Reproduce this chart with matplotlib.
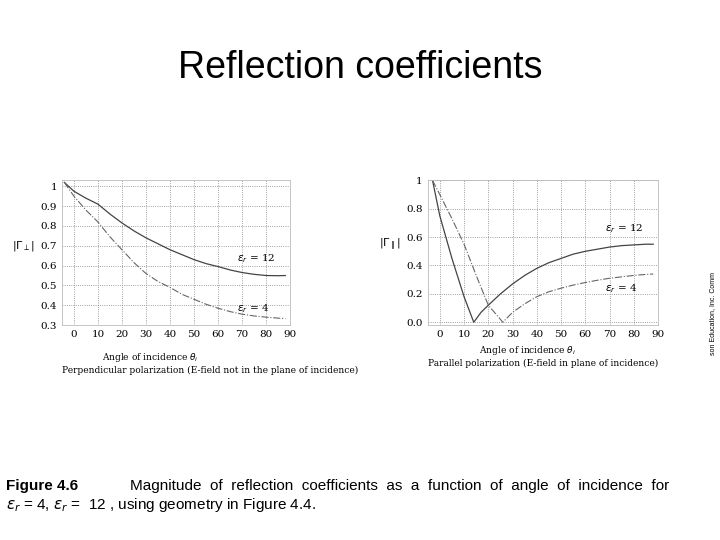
import matplotlib
matplotlib.use("Agg")
import matplotlib.pyplot as plt

# data
perp_x = [-4, 0, 5, 10, 15, 20, 25, 30, 35, 40, 45, 50, 55, 60, 65, 70, 75, 80, 85, 88]
perp_eps12 = [1.02, 0.975, 0.94, 0.91, 0.86, 0.815, 0.775, 0.74, 0.71, 0.68, 0.655, 0.63, 0.61, 0.595,
              0.578, 0.565, 0.556, 0.55, 0.549, 0.55]
perp_eps4 = [1.02, 0.95, 0.88, 0.82, 0.745, 0.68, 0.615, 0.56, 0.52, 0.49, 0.455, 0.43, 0.405, 0.385,
             0.368, 0.355, 0.346, 0.34, 0.335, 0.333]

par_x12 = [-3, 0, 5, 10, 14, 17, 20, 25, 30, 35, 40, 45, 50, 55, 60, 65, 70, 75, 80, 85, 88]
par_eps12 = [1.0, 0.75, 0.45, 0.18, 0.0, 0.07, 0.12, 0.2, 0.27, 0.33, 0.38, 0.42, 0.45, 0.48, 0.5,
             0.515, 0.53, 0.54, 0.545, 0.55, 0.55]
par_x4 = [-3, 0, 5, 10, 15, 20, 26, 30, 35, 40, 45, 50, 55, 60, 65, 70, 75, 80, 85, 88]
par_eps4 = [1.0, 0.9, 0.73, 0.55, 0.33, 0.12, 0.0, 0.07, 0.13, 0.18, 0.215, 0.24, 0.262, 0.28, 0.296,
            0.31, 0.32, 0.33, 0.337, 0.34]

x_ticks = [0, 10, 20, 30, 40, 50, 60, 70, 80, 90]

serif = "DejaVu Serif"
fig = plt.figure(figsize=(7.2, 5.4), dpi=100)
fig.text(0.5, 0.875, "Reflection coefficients", ha="center", va="center",
         fontsize=27, family="Liberation Sans")

def style(ax, yticks, ylabels):
    ax.set_xlim(-5, 90)
    ax.set_xticks(x_ticks)
    ax.set_yticks(yticks)
    ax.set_yticklabels(ylabels)
    ax.grid(color="gray", linestyle=":", linewidth=0.6)
    ax.tick_params(length=0, labelsize=7.5)
    for t in ax.get_xticklabels() + ax.get_yticklabels():
        t.set_family(serif)
    for s in ax.spines.values():
        s.set_color("#bbbbbb")
        s.set_linewidth(0.6)

ax1 = fig.add_axes([0.086, 0.398, 0.317, 0.268])
ax1.plot(perp_x, perp_eps12, color="#444444", lw=0.9)
ax1.plot(perp_x, perp_eps4, color="#666666", lw=0.8, ls="-.")
ax1.set_ylim(0.3, 1.03)
style(ax1, [0.3, 0.4, 0.5, 0.6, 0.7, 0.8, 0.9, 1.0],
      ["0.3", "0.4", "0.5", "0.6", "0.7", "0.8", "0.9", "1"])
ax1.text(68, 0.62, r"$\epsilon_r$ = 12", fontsize=7.5, family=serif)
ax1.text(68, 0.37, r"$\epsilon_r$ = 4", fontsize=7.5, family=serif)
ax1.set_ylabel(r"$|\Gamma_\perp|$", rotation=0, fontsize=8, labelpad=12)
ax1.set_xlabel("              Angle of incidence $\\theta_i$\nPerpendicular polarization (E-field not in the plane of incidence)",
               fontsize=6.5, family=serif, labelpad=9, loc="left")

ax2 = fig.add_axes([0.594, 0.398, 0.32, 0.268])
ax2.plot(par_x12, par_eps12, color="#444444", lw=0.9)
ax2.plot(par_x4, par_eps4, color="#666666", lw=0.8, ls="-.")
ax2.set_ylim(-0.02, 1.0)
style(ax2, [0.0, 0.2, 0.4, 0.6, 0.8, 1.0], ["0.0", "0.2", "0.4", "0.6", "0.8", "1"])
ax2.text(68, 0.64, r"$\epsilon_r$ = 12", fontsize=7.5, family=serif)
ax2.text(68, 0.22, r"$\epsilon_r$ = 4", fontsize=7.5, family=serif)
ax2.set_ylabel(r"$|\Gamma_\parallel|$", rotation=0, fontsize=8, labelpad=12)
ax2.set_xlabel("                  Angle of incidence $\\theta_i$\nParallel polarization (E-field in plane of incidence)",
               fontsize=6.5, family=serif, labelpad=4, loc="left")

fig.text(0.995, 0.42, "son Education, Inc. Comm", rotation=90, fontsize=5,
         ha="right", va="center", family="Liberation Sans")

fig.text(0.008, 0.093, "Figure 4.6", fontsize=11, weight="bold", family="Liberation Sans")
fig.text(0.18, 0.093, "Magnitude  of  reflection  coefficients  as  a  function  of  angle  of  incidence  for",
         fontsize=11, family="Liberation Sans")
fig.text(0.008, 0.058, r"$\epsilon_r$ = 4, $\epsilon_r$ =  12 , using geometry in Figure 4.4.",
         fontsize=11, family="Liberation Sans")

fig.savefig("out.png", dpi=100)
